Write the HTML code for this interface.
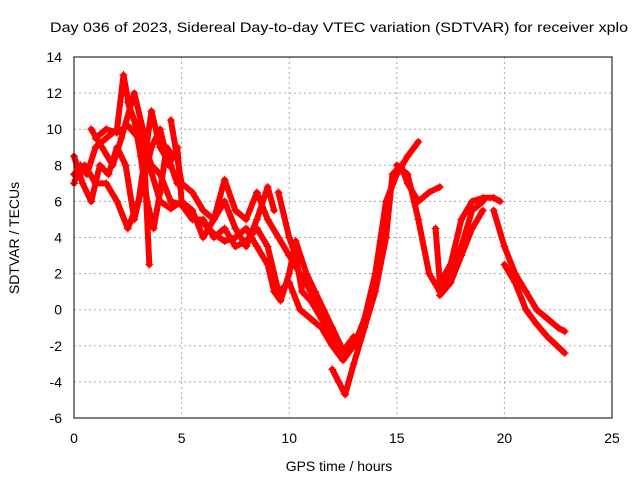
<!DOCTYPE html>
<html><head><meta charset="utf-8"><style>
body{margin:0;background:#fff;}
svg{display:block;font-family:"Liberation Sans",sans-serif;}
</style></head><body>
<svg id="chart" width="640" height="480">
<rect width="640" height="480" fill="#fff"/>
<text x="50" y="32" font-size="14" textLength="578" lengthAdjust="spacingAndGlyphs">Day 036 of 2023, Sidereal Day-to-day VTEC variation (SDTVAR) for receiver xplo</text>
<text x="339" y="471" font-size="14" text-anchor="middle">GPS time / hours</text>
<text x="19" y="238" font-size="14" text-anchor="middle" transform="rotate(-90 19 238)">SDTVAR / TECUs</text>
<g id="grid"></g><g id="series"></g>
<rect x="74" y="57" width="538" height="361" fill="none" stroke="#000"/>
</svg>
<script>
const xTicks=[0,5,10,15,20,25];
const yTicks=[-6,-4,-2,0,2,4,6,8,10,12,14];
const track1=[[0,7],[0.3,8],[0.6,7.5],[1,9],[1.5,9.5],[2,10],[2.3,13],[2.6,11],[3,10],[3.3,9],[3.6,8],[4,7.5],[4.5,6],[5,5.8],[5.5,5],[6,5],[6.5,4],[7,4.5],[7.5,3.5],[8,3.8],[8.5,4.5],[9,3.5],[9.5,1],[10,1.5],[10.5,0],[11,-0.5],[11.5,-1],[12,-2],[12.5,-2.8],[13,-2],[13.5,-0.5],[14,2],[14.5,6],[15,7.5],[15.5,8.5],[16,9.3]];
const track2=[[0,7.5],[0.5,8],[1,7],[1.5,7],[2,6],[2.5,4.5],[3,6],[3.3,8.5],[3.6,11],[4,9],[4.5,8],[4.8,7]];
const track3=[[4.5,10.5],[5,7],[5.5,6.5],[6,5.5],[6.5,5],[7,7.2],[7.5,5.5],[8,5],[8.5,6.5],[9,5],[9.5,4],[10,3],[10.5,2],[11,1],[11.5,-0.5],[12,-1.5],[12.5,-2.3],[13,-1.5]];
const track4=[[12,-3.3],[12.3,-4],[12.6,-4.7],[13,-3],[13.5,-1],[14,1],[14.5,4],[14.8,7.5],[15.2,8],[15.5,7],[16,6],[16.5,6.5],[17,6.8]];
const track5=[[15,8],[15.5,7.5],[16,5],[16.5,2],[17,1],[17.5,2],[18,3.5],[18.5,5.5],[19,6]];
const track6=[[16.8,4.5],[17,1.5],[17.5,2.5],[18,5],[18.5,6],[19,6.2],[19.5,6.2],[19.8,6]];
const track7=[[17,0.8],[17.5,1.5],[18,3],[18.5,4.5],[19,5.5]];
const track8=[[19.5,5.5],[20,3.5],[20.5,2],[21,1],[21.5,0],[22,-0.5],[22.5,-1],[22.8,-1.2]];
const track9=[[20,2.5],[20.5,1.5],[21,0],[21.5,-0.8],[22,-1.5],[22.8,-2.4]];
const track10=[[9.5,6.5],[10,4],[10.3,3],[10.6,1],[11,0.5],[11.5,-0.5]];
const track11=[[0.8,10],[1.3,9],[1.8,8],[2.2,9.5],[2.8,12],[3.2,10],[3.5,2.5]];
const track12=[[0,8.5],[0.4,7],[0.8,6],[1.2,8],[1.6,7.5],[2,9],[2.4,8],[2.8,5],[3.2,7],[3.6,9],[4,10],[4.4,8],[4.8,9],[5,6]];
const track13=[[1,9.5],[1.5,10],[2,9.8],[2.5,10.2],[3,9.5],[3.5,8],[4,6],[4.5,5.6],[5,6],[5.5,5.5],[6,4],[6.5,5],[7,6],[7.5,4.5],[8,3.5],[8.5,5],[9,6.8],[9.3,5.5]];
const track14=[[6,4.8],[6.5,4.2],[7,3.8],[7.5,4],[8,4.5],[8.5,3.5],[9,2.5],[9.3,1],[9.6,0.5],[10,2],[10.3,3.8],[10.8,2],[11.2,1],[11.6,0],[12,-1],[12.4,-2]];
const track15=[[2.5,11.5],[2.8,10.5],[3.1,8.5],[3.4,6],[3.7,4.5],[4,6.5],[4.3,9],[4.6,8.5]];
const tracks=[track1,track2,track3,track4,track5,track6,track7,track8,track9,track10,track11,track12,track13,track14,track15];
const X=v=>74+v*538/25, Y=v=>418-(v+6)*361/20;
const NS="http://www.w3.org/2000/svg";
const g=document.getElementById('grid'), s=document.getElementById('series');
function mk(p,tag,at){const e=document.createElementNS(NS,tag);for(const k in at)e.setAttribute(k,at[k]);p.appendChild(e);return e;}
xTicks.forEach(t=>{
 const l=mk(g,'line',{x1:X(t),x2:X(t),y1:57,y2:418,stroke:'#aaa','stroke-dasharray':'2,3'});
 
 
 const tx=mk(g,'text',{x:X(t),y:443,'font-size':14,'text-anchor':'middle'});tx.textContent=t;
 
 
});
yTicks.forEach(t=>{
 const l=mk(g,'line',{x1:74,x2:612,y1:Y(t),y2:Y(t),stroke:'#aaa','stroke-dasharray':'2,3'});
 
 
 const tx=mk(g,'text',{x:62,y:Y(t)+5,'font-size':14,'text-anchor':'end'});tx.textContent=t;
 
 
});
tracks.forEach(tr=>{
 const pl=mk(s,'polyline',{points:tr.map(p=>X(p[0])+','+Y(p[1])).join(' '),fill:'none',stroke:'#f00','stroke-width':6,'stroke-linejoin':'round','stroke-linecap':'round'});
 
 
 tr.forEach(p=>{
  const m=mk(s,'path',{d:`M${X(p[0])-4},${Y(p[1])}h8M${X(p[0])},${Y(p[1])-4}v8`,stroke:'#f00','stroke-width':1});
  
  
 });
});
</script>
</body></html>
